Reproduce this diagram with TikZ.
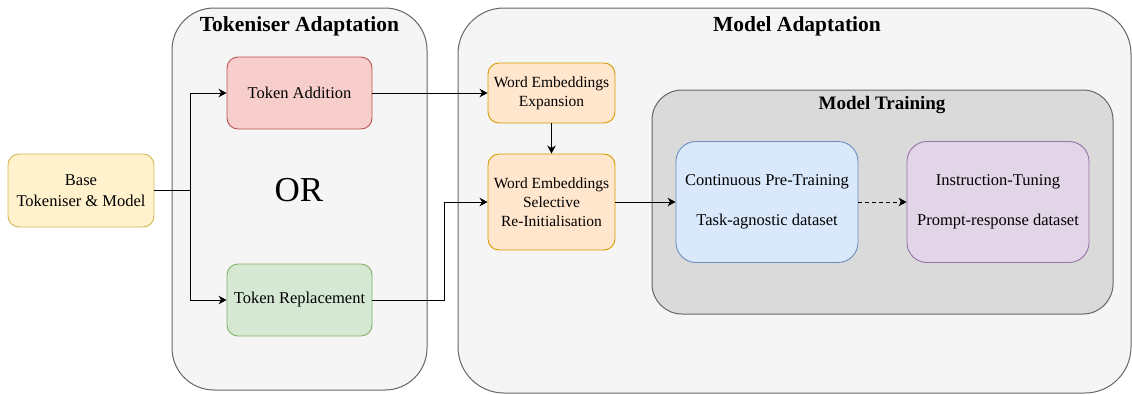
\documentclass[tikz,border=0pt]{standalone}
\usepackage{fontspec}
\setmainfont{Liberation Serif}
\usetikzlibrary{arrows.meta}
\definecolor{baseF}{HTML}{FFF2CC}\definecolor{baseD}{HTML}{D6B656}
\definecolor{taF}{HTML}{F8CECC}\definecolor{taD}{HTML}{B85450}
\definecolor{trF}{HTML}{D5E8D4}\definecolor{trD}{HTML}{82B366}
\definecolor{weF}{HTML}{FFE6CC}\definecolor{weD}{HTML}{D79B00}
\definecolor{cpF}{HTML}{DAE8FC}\definecolor{cpD}{HTML}{6C8EBF}
\definecolor{itF}{HTML}{E1D5E7}\definecolor{itD}{HTML}{9673A6}
\definecolor{contF}{HTML}{F5F5F5}\definecolor{contD}{HTML}{666666}
\definecolor{mtF}{HTML}{DADADA}
\begin{document}
\begin{tikzpicture}[x=1pt,y=-1pt,
  font=\fontsize{16.5}{20.5}\selectfont,
  box/.style={draw, line width=0.9pt, rounded corners=11pt, align=center, inner sep=0pt},
  bigbox/.style={box, rounded corners=20pt},
  container/.style={draw=contD, fill=contF, line width=1pt, inner sep=0pt},
  title/.style={font=\fontsize{21.5}{24}\selectfont\bfseries},
  arr/.style={line width=0.9pt, -{Stealth[length=8pt,width=8.5pt,inset=2.5pt]}}]
\useasboundingbox (0,0) rectangle (1132,394);
% containers
\node[container, rounded corners=46pt, minimum width=673pt, minimum height=385pt] (modad) at (794.5,200.5) {};
\node[container, rounded corners=42pt, minimum width=255pt, minimum height=382pt] (tokad) at (299.5,199) {};
\node[container, fill=mtF, rounded corners=30pt, minimum width=461pt, minimum height=224pt] (modtr) at (882.5,202) {};
% titles
\node[title] (tokadT) at (299.5,26) {Tokeniser Adaptation};
\node[title] (modadT) at (797,26) {Model Adaptation};
\node[title, font=\fontsize{19}{22}\selectfont\bfseries] (modtrT) at (882,105) {Model Training};
% nodes
\node[box, fill=baseF, draw=baseD, minimum width=146pt, minimum height=73pt] (base) at (81,190.5) {Base\\Tokeniser \& Model};
\node[box, fill=taF, draw=taD, minimum width=145pt, minimum height=72pt] (ta) at (299.5,93) {Token Addition};
\node[box, fill=trF, draw=trD, minimum width=145pt, minimum height=72pt] (tr) at (299.5,300) {Token Replacement};
\node[font=\fontsize{35}{40}\selectfont] (or) at (299,190) {OR};
\node[box, fill=weF, draw=weD, minimum width=127pt, minimum height=60pt, font=\fontsize{15.5}{19}\selectfont] (wee) at (551.5,93) {Word Embeddings\\Expansion};
\node[box, fill=weF, draw=weD, minimum width=127pt, minimum height=96pt, font=\fontsize{15.5}{19}\selectfont] (wes) at (551.5,202) {Word Embeddings\\Selective\\Re-Initialisation};
\node[bigbox, fill=cpF, draw=cpD, minimum width=182pt, minimum height=121pt] (cpt) at (767,202) {Continuous Pre-Training\\[20pt]Task-agnostic dataset};
\node[bigbox, fill=itF, draw=itD, minimum width=182pt, minimum height=121pt] (it) at (998,202) {Instruction-Tuning\\[20pt]Prompt-response dataset};
% connectors
\draw[arr] (base.east) -- ++(36,0) coordinate (split) |- (ta.west);
\draw[arr] (split) |- (tr.west);
\draw[arr] (ta.east) -- (wee.west);
\draw[arr] (tr.east) -- ++(72,0) |- (wes.west);
\draw[arr] (wee.south) -- (wes.north);
\draw[arr] (wes.east) -- (cpt.west);
\draw[arr, dashed, dash pattern=on 4pt off 3pt] (cpt.east) -- (it.west);
\end{tikzpicture}
\end{document}
